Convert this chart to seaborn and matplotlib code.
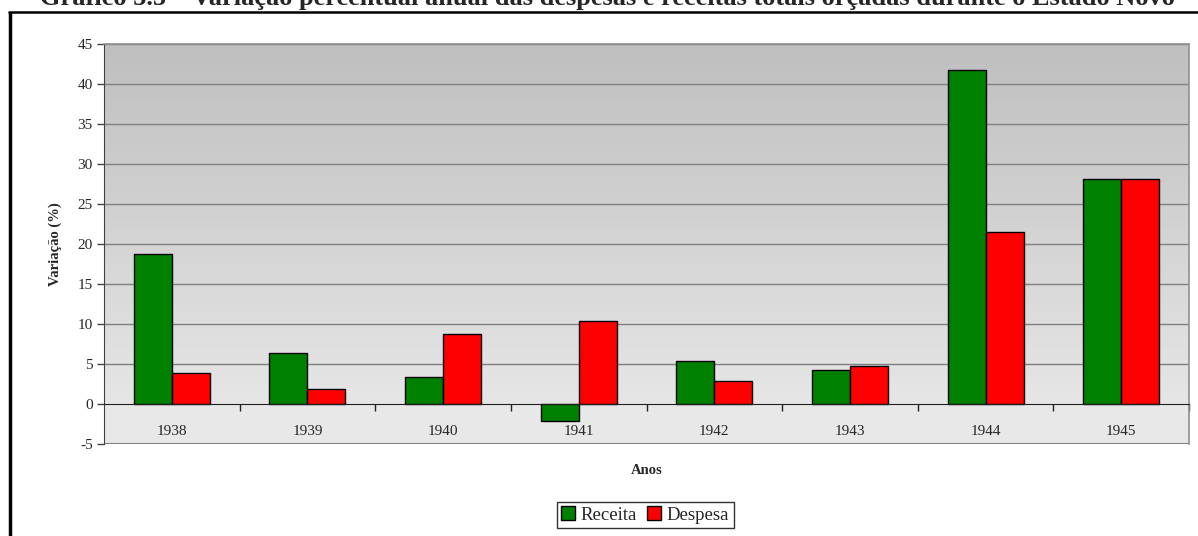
import numpy as np
import pandas as pd
import seaborn as sns
import matplotlib.pyplot as plt
from matplotlib.lines import Line2D
from matplotlib.colors import LinearSegmentedColormap

# valores (variação % anual)
anos = ["1938", "1939", "1940", "1941", "1942", "1943", "1944", "1945"]
receita = [18.8, 6.4, 3.4, -2.1, 5.4, 4.2, 41.8, 28.1]
despesa = [3.9, 1.9, 8.8, 10.4, 2.9, 4.8, 21.5, 28.1]

df = pd.DataFrame({
    "Anos": anos * 2,
    "valor": receita + despesa,
    "serie": ["Receita"] * len(anos) + ["Despesa"] * len(anos),
})

sns.set_style("white")
plt.rcParams["font.family"] = ["Liberation Serif", "DejaVu Serif"]
plt.rcParams["axes.unicode_minus"] = False

W, H = 1198, 536
fig = plt.figure(figsize=(W / 100, H / 100), dpi=100)
ax = fig.add_axes([104 / W, 1 - 444 / H, (1189 - 104) / W, 400 / H])

# fundo em degradê (área positiva) e faixa clara abaixo de zero
grad = np.linspace(0, 1, 256).reshape(-1, 1)
cmap = LinearSegmentedColormap.from_list("g", ["#bfbfbf", "#e6e6e6"])
ax.imshow(grad, cmap=cmap, extent=(-0.5, 7.5, 0, 45), origin="upper",
          aspect="auto", zorder=0)
ax.axhspan(-5, 0, color="#e8e8e8", zorder=0)

sns.barplot(data=df, x="Anos", y="valor", hue="serie",
            palette={"Receita": "#008000", "Despesa": "#ff0000"},
            saturation=1, width=0.56, gap=0, edgecolor="black", linewidth=1,
            ax=ax, zorder=3, legend=True)

ax.set_xlim(-0.5, 7.5)
ax.set_ylim(-5, 45)
ax.set_yticks(range(-5, 50, 5))
for v in range(5, 50, 5):
    ax.axhline(v, color="#808080", lw=1, zorder=1)
ax.axhline(-5, color="#808080", lw=1.5, zorder=1)

for s in ["top", "right"]:
    ax.spines[s].set_color("#909090")
    ax.spines[s].set_linewidth(1.2)
ax.spines["left"].set_color("#404040")
ax.spines["bottom"].set_position(("data", 0))
ax.spines["bottom"].set_color("#202020")
ax.spines["bottom"].set_zorder(4)

ax.tick_params(axis="y", direction="out", length=5, width=1, color="#404040",
               labelsize=11, pad=3, left=True)
ax.tick_params(axis="x", which="major", length=0, labelsize=11, pad=15)
ax.set_xticks(np.arange(0.5, 7.6, 1), minor=True)
ax.tick_params(axis="x", which="minor", direction="out", length=5, width=1,
               color="#202020", bottom=True)

ax.set_ylabel("Variação (%)", fontsize=10.5, fontweight="bold")
ax.yaxis.set_label_coords(-42 / 1085, 0.5)
ax.set_xlabel("Anos", fontsize=10.5, fontweight="bold")
ax.xaxis.set_label_coords(0.5, -20 / 400)

handles, labels = ax.get_legend_handles_labels()
ax.get_legend().remove()
leg = fig.legend(handles, labels, loc="center", bbox_to_anchor=(645 / W, 1 - 515 / H),
                 ncol=2, fontsize=13.5, frameon=True, fancybox=False,
                 edgecolor="black", handlelength=0.75, handleheight=0.75,
                 handletextpad=0.3, columnspacing=0.5, borderpad=0.25)
leg.get_frame().set_linewidth(1)

# moldura e título (cortado no topo, como no original)
fig.add_artist(Line2D([9.5 / W, 9.5 / W], [0, 1 - 12 / H], transform=fig.transFigure,
                      color="black", lw=2.5, solid_capstyle="butt"))
fig.add_artist(Line2D([8 / W, 1], [1 - 12 / H, 1 - 12 / H], transform=fig.transFigure,
                      color="black", lw=1.8, solid_capstyle="butt"))
fig.text(607 / W, 1 - 5 / H,
         "Gráfico 5.5 – Variação percentual anual das despesas e receitas totais orçadas durante o Estado Novo",
         ha="center", va="baseline", fontsize=19, fontweight="bold")

fig.savefig("out.png", dpi=100)
